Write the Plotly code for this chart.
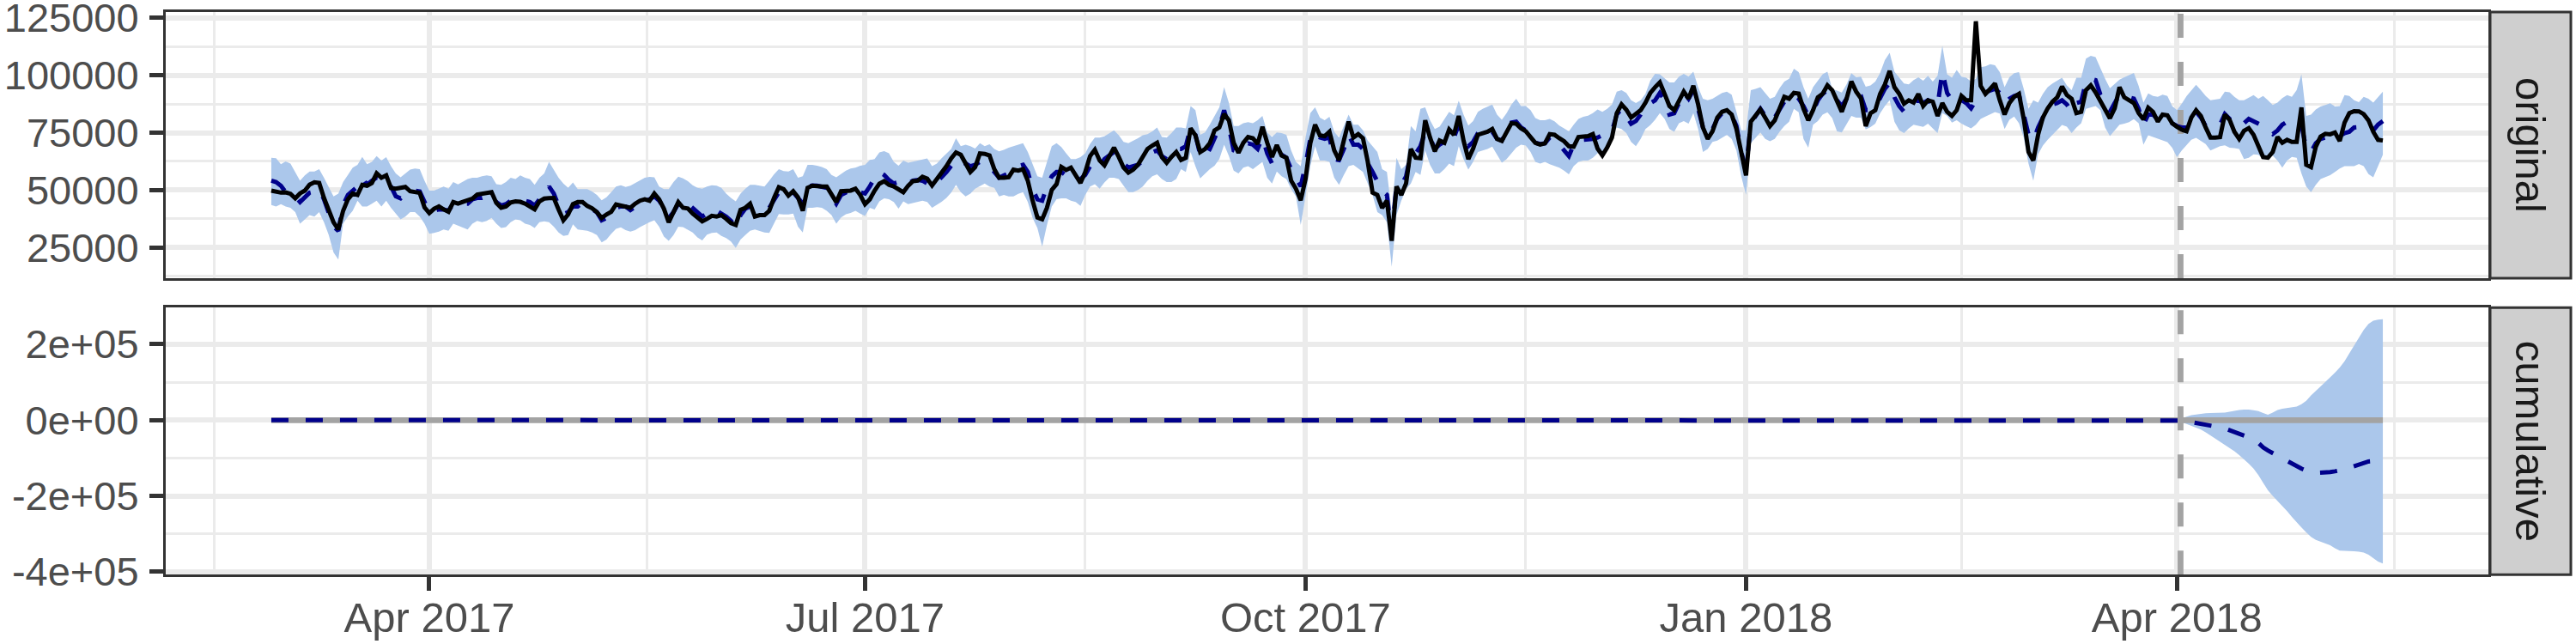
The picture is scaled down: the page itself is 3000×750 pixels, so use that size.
import pandas as pd
import plotly.graph_objects as go

# ---------------- data (values in thousands) ----------------
START_DATE = "2017-02-27"          # first observation
INTERVENTION = "2018-04-01 18:00"  # dashed vertical marker
POST_START_OFFSET = 398            # index of the last pre-period day (cumulative starts here)

response_k = [
    49.8, 49.3, 48.9, 49.0, 48.4, 46.4, 48.6, 49.8, 52.4, 53.4,
    53.1, 46.6, 41.0, 36.0, 32.9, 41.0, 46.0, 48.5, 47.9, 52.3,
    51.9, 53.1, 57.3, 55.4, 56.4, 50.9, 50.6, 50.8, 51.4, 49.5,
    49.1, 48.8, 42.5, 40.0, 41.9, 42.9, 41.6, 40.6, 44.8, 44.1,
    44.9, 45.6, 46.3, 48.1, 48.3, 48.6, 49.1, 44.4, 42.3, 42.9,
    44.6, 45.1, 44.9, 44.1, 43.1, 41.6, 45.1, 46.3, 46.5, 46.6,
    41.6, 36.9, 39.4, 43.9, 44.8, 44.8, 43.1, 42.1, 40.4, 37.9,
    39.4, 40.6, 43.8, 43.4, 42.9, 42.3, 44.1, 45.4, 46.0, 45.4,
    48.5, 46.0, 41.9, 36.0, 40.4, 44.8, 42.3, 42.0, 39.8, 37.9,
    36.4, 37.5, 38.8, 38.5, 39.1, 37.5, 35.6, 34.8, 41.4, 42.3,
    44.1, 38.5, 39.1, 39.1, 41.0, 46.6, 51.3, 50.4, 47.6, 49.5,
    46.9, 41.0, 51.0, 51.9, 51.6, 51.6, 51.6, 48.1, 44.8, 49.5,
    49.8, 49.8, 50.6, 47.9, 43.9, 46.0, 49.8, 52.8, 53.9, 52.3,
    51.6, 50.6, 49.1, 51.9, 53.9, 54.1, 55.8, 55.0, 52.0, 54.8,
    57.3, 60.4, 63.8, 66.4, 65.4, 61.3, 57.9, 60.0, 66.0, 65.8,
    65.1, 59.1, 55.4, 55.4, 55.6, 58.9, 58.5, 59.1, 54.1, 45.4,
    38.1, 37.3, 42.3, 50.1, 52.6, 60.1, 58.8, 59.8, 56.6, 53.1,
    57.9, 64.8, 67.6, 62.9, 60.8, 64.8, 68.5, 64.4, 59.8, 57.6,
    58.9, 61.0, 64.1, 67.9, 69.4, 70.6, 64.4, 61.9, 64.5, 66.6,
    63.1, 64.1, 76.9, 73.9, 66.6, 67.9, 70.4, 76.0, 77.3, 83.1,
    80.4, 70.6, 66.3, 70.6, 73.1, 72.6, 70.1, 77.6, 70.6, 64.4,
    69.6, 65.1, 64.1, 54.1, 50.6, 45.6, 54.8, 70.4, 78.5, 73.8,
    73.5, 75.4, 67.3, 63.1, 71.6, 79.8, 72.9, 74.4, 72.6, 62.3,
    48.9, 47.9, 42.3, 45.4, 27.9, 51.6, 47.9, 52.9, 67.9, 64.1,
    63.9, 80.4, 72.9, 66.9, 71.6, 70.6, 76.4, 74.1, 82.3, 71.6,
    63.5, 68.1, 74.1, 74.8, 75.4, 76.6, 72.3, 71.4, 75.1, 79.1,
    78.9, 76.9, 75.6, 72.9, 70.6, 69.8, 70.4, 74.4, 74.1, 72.6,
    71.3, 69.1, 68.9, 73.1, 73.1, 73.5, 74.4, 68.1, 65.1, 68.5,
    72.9, 83.5, 87.3, 85.0, 81.6, 83.1, 84.8, 88.1, 92.3, 94.8,
    96.9, 91.9, 86.6, 84.8, 89.4, 92.9, 89.8, 95.4, 87.3, 77.3,
    72.3, 75.6, 81.6, 84.1, 84.8, 82.9, 76.6, 65.4, 56.4, 79.8,
    82.6, 85.1, 81.6, 77.9, 80.4, 85.6, 90.6, 89.8, 92.3, 92.0,
    85.4, 80.4, 84.8, 90.4, 91.9, 95.6, 93.5, 88.8, 84.1, 89.8,
    97.3, 92.9, 90.0, 77.9, 83.5, 84.8, 91.9, 96.0, 101.9, 94.8,
    91.9, 87.6, 89.1, 88.1, 91.9, 86.6, 89.1, 88.5, 82.3, 87.9,
    84.1, 82.3, 84.8, 91.0, 89.1, 89.1, 123.5, 95.4, 91.9, 94.1,
    96.4, 89.1, 82.9, 87.9, 90.6, 91.9, 81.0, 66.6, 62.9, 74.1,
    81.6, 85.6, 88.5, 90.4, 95.1, 91.4, 89.8, 83.5, 84.1, 93.5,
    95.6, 92.6, 88.5, 85.4, 81.3, 85.6, 94.8, 90.4, 89.1, 87.9,
    83.5, 80.8, 85.9, 84.1, 79.8, 82.9, 82.6, 79.1, 77.6, 76.3,
    75.6, 81.6, 84.8, 82.3, 77.3, 72.9, 72.9, 73.1, 82.9, 80.6,
    75.4, 72.3, 75.8, 77.0, 74.1, 69.1, 64.4, 64.1, 66.6, 73.1,
    70.6, 71.9, 71.0, 71.0, 86.0, 61.0, 60.0, 68.9, 73.3, 74.5,
    74.3, 75.1, 71.4, 79.4, 83.5, 84.4, 84.3, 83.1, 80.4, 75.4,
    71.9, 71.6,
]

point_pred_k = [
    54.1, 53.5, 51.9, 49.1, 47.9, 47.3, 44.8, 46.6, 48.9, 49.4,
    50.4, 46.0, 39.8, 34.1, 32.3, 43.5, 47.9, 49.8, 51.6, 55.4,
    52.3, 54.1, 55.4, 54.8, 54.8, 51.6, 47.3, 46.4, 48.5, 49.4,
    49.8, 49.4, 45.4, 40.4, 41.0, 41.6, 41.6, 41.0, 44.1, 44.1,
    44.4, 44.1, 46.0, 46.6, 46.6, 47.3, 47.9, 44.8, 43.3, 43.9,
    45.4, 46.0, 46.4, 45.4, 44.8, 43.3, 46.0, 46.6, 51.6, 48.5,
    43.3, 39.5, 40.4, 42.9, 42.9, 44.4, 42.9, 41.9, 40.4, 36.9,
    37.9, 39.8, 42.3, 42.9, 42.9, 41.3, 42.9, 44.1, 45.4, 46.0,
    47.3, 45.4, 42.3, 37.9, 40.4, 44.1, 46.0, 44.1, 42.3, 40.4,
    38.5, 39.8, 41.9, 41.0, 39.8, 38.5, 36.6, 33.9, 39.1, 41.9,
    42.9, 42.9, 42.3, 41.6, 42.3, 46.0, 49.1, 49.1, 48.5, 49.1,
    46.6, 44.1, 51.4, 52.0, 51.9, 51.6, 51.0, 47.3, 44.1, 47.9,
    49.1, 49.8, 51.0, 49.1, 48.5, 51.6, 55.4, 57.9, 56.6, 54.4,
    52.9, 53.5, 51.6, 52.9, 54.1, 54.4, 54.1, 52.9, 51.6, 53.5,
    55.4, 57.9, 60.6, 63.5, 62.3, 61.6, 60.4, 61.0, 62.3, 61.6,
    60.4, 57.9, 55.4, 56.4, 57.3, 59.1, 60.4, 61.0, 57.9, 50.4,
    46.0, 45.4, 51.6, 56.0, 57.9, 57.9, 56.6, 54.8, 54.1, 54.8,
    56.6, 60.4, 62.3, 60.4, 63.5, 64.8, 66.6, 64.8, 61.6, 59.8,
    60.4, 61.0, 62.9, 64.8, 66.4, 67.3, 64.8, 63.5, 65.4, 67.9,
    67.9, 69.1, 77.3, 74.1, 65.4, 64.1, 67.9, 72.9, 77.3, 84.8,
    77.3, 67.3, 66.6, 69.1, 70.4, 69.8, 67.9, 72.9, 66.0, 61.6,
    66.6, 65.4, 64.1, 59.1, 55.4, 51.6, 61.0, 72.3, 75.4, 72.9,
    72.3, 72.9, 63.5, 63.1, 67.9, 74.1, 69.8, 69.8, 67.9, 61.6,
    57.9, 54.1, 49.8, 47.9, 30.4, 52.3, 52.3, 56.0, 66.0, 66.0,
    69.1, 75.4, 72.9, 67.9, 69.8, 71.0, 73.5, 72.9, 78.5, 72.9,
    69.1, 71.0, 74.8, 76.6, 74.8, 75.4, 72.3, 71.6, 75.4, 79.4,
    79.8, 77.3, 76.0, 72.9, 70.6, 70.1, 70.4, 72.9, 72.3, 69.8,
    67.3, 64.8, 69.8, 71.9, 71.9, 71.9, 72.3, 72.9, 74.1, 74.8,
    75.6, 82.9, 85.4, 82.3, 78.9, 80.1, 82.9, 86.6, 88.1, 89.1,
    92.3, 89.1, 82.9, 83.5, 87.9, 92.6, 89.8, 93.5, 85.4, 77.3,
    74.1, 76.6, 81.0, 83.5, 83.9, 82.9, 77.9, 66.6, 59.1, 79.1,
    82.3, 85.4, 82.3, 79.8, 81.6, 85.4, 88.5, 89.8, 91.6, 89.8,
    86.6, 82.3, 84.1, 89.1, 91.9, 93.5, 92.6, 89.1, 86.6, 89.8,
    92.6, 92.3, 91.0, 84.8, 84.8, 86.0, 90.4, 94.1, 96.6, 90.4,
    86.6, 84.1, 87.3, 88.5, 89.1, 87.9, 89.1, 87.3, 86.6, 101.6,
    92.3, 89.1, 91.0, 89.1, 87.9, 85.6, 89.1, 91.6, 92.6, 93.5,
    94.1, 92.3, 87.9, 89.8, 91.0, 91.6, 83.5, 74.1, 71.6, 77.3,
    81.6, 84.1, 87.3, 87.9, 89.1, 87.3, 84.1, 87.9, 88.5, 97.3,
    98.5, 97.9, 91.6, 87.9, 84.1, 87.9, 91.6, 91.6, 90.4, 89.8,
    85.4, 78.5, 82.9, 82.9, 80.6, 81.0, 81.0, 79.1, 77.9, 77.3,
    77.3, 81.6, 84.1, 81.6, 77.9, 77.6, 77.9, 78.5, 83.1, 81.0,
    78.9, 77.9, 79.1, 81.0, 80.1, 79.1, 77.9, 76.0, 74.4, 76.0,
    78.5, 79.8, 79.8, 79.8, 78.5, 67.9, 66.6, 70.4, 72.3, 72.9,
    72.9, 73.1, 73.5, 74.8, 75.4, 77.3, 77.6, 77.6, 77.3, 76.0,
    78.5, 80.1,
]

pred_upper_k = [
    64.1, 63.9, 61.3, 62.5, 61.6, 57.9, 54.1, 56.4, 58.1, 58.1,
    59.1, 55.4, 51.6, 47.3, 48.5, 53.5, 56.6, 59.8, 61.0, 64.5,
    61.3, 62.3, 64.8, 62.9, 64.4, 60.4, 57.3, 55.6, 57.3, 58.9,
    59.4, 59.1, 54.1, 49.8, 49.8, 50.6, 51.6, 50.6, 53.5, 52.5,
    53.5, 54.8, 55.4, 55.4, 56.0, 56.4, 56.0, 52.6, 52.3, 53.5,
    55.4, 54.8, 56.4, 55.4, 54.8, 52.3, 55.4, 57.3, 62.3, 59.1,
    55.4, 52.9, 51.0, 53.3, 50.4, 50.4, 50.4, 49.4, 47.9, 45.6,
    46.9, 49.1, 51.6, 52.1, 51.4, 51.9, 53.1, 54.4, 55.4, 55.8,
    55.6, 51.6, 50.4, 50.4, 53.5, 55.9, 55.1, 53.9, 52.1, 51.0,
    50.6, 51.6, 52.1, 51.9, 51.0, 48.5, 46.6, 45.1, 48.5, 50.6,
    52.3, 52.3, 51.9, 51.6, 54.1, 56.9, 59.1, 58.3, 58.1, 59.1,
    55.4, 56.0, 61.0, 61.0, 60.6, 60.1, 59.1, 56.6, 55.6, 57.0,
    58.5, 59.4, 59.8, 60.6, 61.0, 63.1, 63.5, 66.4, 67.0, 66.0,
    62.3, 60.6, 62.9, 61.9, 62.4, 62.9, 63.4, 63.8, 60.4, 61.6,
    63.9, 66.0, 67.9, 72.6, 69.1, 69.8, 69.1, 68.1, 70.4, 69.1,
    70.0, 67.9, 66.9, 67.5, 68.5, 69.1, 69.8, 70.4, 66.6, 61.6,
    56.0, 55.4, 62.3, 69.1, 70.4, 68.8, 66.0, 63.5, 63.5, 64.4,
    66.0, 70.1, 72.9, 72.9, 73.4, 74.8, 76.0, 73.9, 71.0, 70.4,
    71.4, 72.6, 73.9, 74.4, 75.6, 77.3, 73.1, 72.9, 74.8, 77.3,
    77.3, 76.9, 86.6, 84.8, 74.1, 75.1, 78.5, 82.3, 86.0, 94.8,
    87.9, 77.9, 77.9, 79.1, 79.6, 79.1, 80.4, 82.3, 75.1, 73.1,
    75.1, 74.8, 74.1, 67.3, 62.3, 60.4, 72.9, 83.5, 86.0, 81.6,
    80.4, 81.9, 75.4, 72.9, 77.9, 82.9, 78.5, 78.5, 76.0, 71.6,
    69.1, 66.6, 59.1, 57.9, 40.4, 64.1, 59.1, 61.0, 77.9, 75.6,
    85.4, 86.0, 80.4, 76.6, 77.6, 81.0, 84.1, 82.6, 88.9, 82.9,
    78.1, 80.1, 84.1, 85.4, 86.4, 87.3, 82.9, 80.6, 83.5, 87.3,
    89.8, 86.6, 86.6, 84.8, 81.4, 80.4, 80.4, 81.0, 80.0, 78.1,
    76.9, 75.6, 78.5, 81.0, 81.9, 82.4, 83.5, 85.1, 84.1, 85.4,
    87.3, 92.9, 93.5, 92.3, 89.1, 87.9, 89.1, 91.9, 97.6, 100.6,
    100.4, 98.5, 96.9, 96.9, 99.4, 100.6, 99.4, 101.6, 94.8, 89.8,
    89.1, 89.8, 91.0, 92.3, 92.9, 91.6, 84.1, 76.0, 76.0, 93.5,
    94.1, 94.8, 92.3, 89.8, 90.6, 94.4, 97.3, 98.5, 102.9, 101.4,
    94.8, 89.8, 94.8, 97.6, 100.4, 101.6, 94.1, 93.3, 92.5, 96.0,
    100.9, 99.1, 99.4, 95.0, 95.6, 97.3, 101.0, 106.6, 109.8, 101.6,
    98.8, 96.4, 96.0, 97.9, 99.1, 97.6, 99.8, 97.3, 99.8, 112.9,
    100.4, 98.9, 102.3, 99.4, 98.9, 97.3, 98.5, 103.5, 103.9, 104.8,
    104.4, 101.4, 94.8, 99.1, 100.9, 101.4, 94.1, 85.4, 89.1, 88.1,
    91.9, 94.8, 96.4, 97.6, 98.9, 95.6, 93.5, 98.9, 98.9, 107.3,
    108.5, 107.9, 102.9, 98.5, 94.4, 96.4, 98.1, 99.1, 100.0, 101.0,
    95.4, 88.1, 92.1, 91.0, 90.6, 91.6, 91.0, 86.6, 84.8, 87.6,
    90.9, 93.5, 95.9, 93.5, 91.0, 89.1, 89.4, 89.8, 92.9, 92.6,
    90.6, 89.1, 89.1, 90.4, 91.4, 89.8, 91.0, 89.1, 87.1, 88.1,
    90.1, 91.4, 90.6, 93.5, 100.4, 82.3, 82.9, 85.1, 86.4, 87.1,
    87.8, 86.4, 86.6, 91.4, 91.0, 89.1, 88.3, 90.6, 89.8, 88.1,
    90.4, 92.9,
]

pred_lower_k = [
    43.5, 42.9, 43.9, 42.9, 42.3, 40.4, 35.4, 37.3, 39.1, 38.5,
    40.4, 36.0, 30.4, 22.9, 19.8, 35.4, 38.5, 41.0, 45.4, 42.9,
    42.9, 44.1, 45.4, 42.9, 45.4, 42.3, 39.8, 37.3, 38.5, 40.4,
    40.4, 38.5, 35.4, 31.0, 31.4, 31.9, 32.9, 32.3, 35.4, 34.5,
    33.9, 32.9, 35.4, 36.6, 36.0, 36.6, 37.9, 35.4, 33.5, 33.9,
    36.0, 37.3, 36.9, 35.4, 34.8, 33.5, 36.0, 36.4, 36.0, 34.1,
    31.6, 30.1, 30.4, 35.1, 32.9, 32.6, 32.3, 31.6, 30.4, 27.3,
    28.5, 31.0, 33.1, 33.8, 32.6, 31.9, 32.6, 33.9, 35.1, 36.0,
    36.9, 34.1, 29.8, 27.9, 30.4, 34.1, 33.9, 32.6, 31.6, 29.4,
    28.1, 30.6, 31.4, 31.6, 30.1, 29.1, 27.6, 24.8, 28.5, 30.4,
    32.3, 32.9, 32.3, 31.6, 31.4, 35.4, 39.6, 39.4, 39.4, 39.8,
    34.1, 31.6, 42.3, 42.3, 42.6, 42.3, 41.0, 39.1, 35.4, 38.1,
    39.5, 40.1, 41.0, 39.8, 38.8, 42.3, 41.6, 45.1, 46.4, 46.0,
    44.8, 41.9, 45.1, 43.9, 44.4, 45.0, 45.4, 44.8, 42.3, 43.6,
    44.9, 46.6, 48.9, 52.3, 49.1, 47.3, 48.5, 50.6, 51.6, 52.9,
    51.6, 51.0, 47.3, 47.9, 47.3, 47.3, 48.4, 49.1, 44.8, 37.9,
    33.5, 25.4, 34.8, 42.9, 46.0, 46.4, 46.4, 45.4, 44.8, 43.1,
    47.9, 51.6, 52.6, 50.6, 53.3, 55.4, 55.4, 54.8, 51.9, 49.1,
    49.1, 50.1, 51.6, 54.1, 56.0, 56.9, 54.8, 53.5, 53.5, 54.8,
    59.1, 57.9, 66.6, 60.4, 55.1, 57.3, 59.1, 60.6, 63.5, 69.8,
    64.8, 58.5, 57.3, 59.8, 60.4, 59.1, 60.6, 62.3, 55.4, 52.9,
    58.1, 56.0, 54.8, 50.4, 47.3, 34.8, 47.3, 60.4, 69.1, 62.9,
    62.9, 62.3, 55.4, 52.3, 56.6, 60.4, 61.0, 59.4, 57.9, 52.9,
    47.9, 40.4, 39.1, 36.0, 16.6, 39.1, 45.4, 50.4, 52.9, 57.9,
    56.6, 67.3, 61.0, 57.3, 57.3, 59.1, 61.6, 60.4, 69.1, 63.5,
    58.9, 62.3, 66.6, 67.3, 67.9, 68.9, 65.6, 61.9, 63.5, 66.0,
    68.5, 69.8, 69.4, 66.6, 62.3, 61.6, 62.3, 61.3, 60.6, 59.8,
    58.5, 56.9, 60.4, 62.3, 62.9, 62.9, 64.1, 66.0, 66.9, 68.1,
    72.9, 77.3, 76.6, 74.8, 71.0, 69.1, 72.3, 76.6, 78.3, 80.6,
    83.5, 81.0, 76.6, 75.4, 79.1, 80.1, 78.9, 83.5, 76.6, 66.6,
    67.9, 71.0, 71.6, 72.9, 74.1, 72.3, 67.3, 56.0, 47.9, 70.4,
    72.9, 75.1, 72.3, 71.3, 72.3, 75.4, 77.9, 79.8, 85.4, 83.9,
    72.3, 68.5, 78.5, 80.1, 82.9, 83.9, 81.4, 75.6, 75.1, 78.5,
    82.3, 81.6, 81.6, 76.4, 77.4, 78.9, 83.4, 86.6, 89.1, 79.8,
    76.0, 74.8, 76.9, 78.5, 77.9, 77.5, 78.9, 76.9, 74.8, 83.5,
    82.3, 79.4, 80.4, 78.9, 77.9, 76.9, 78.5, 81.0, 82.0, 83.1,
    84.0, 83.3, 76.6, 80.6, 82.0, 79.1, 72.9, 61.6, 54.1, 65.6,
    69.4, 71.9, 74.1, 76.6, 78.4, 77.6, 74.8, 77.3, 79.1, 85.4,
    86.0, 86.6, 84.8, 77.3, 73.5, 75.8, 78.5, 78.9, 79.6, 80.9,
    79.1, 69.8, 73.9, 73.1, 72.4, 71.6, 70.9, 68.5, 64.4, 67.3,
    69.6, 71.9, 72.8, 71.6, 70.1, 67.3, 68.1, 69.1, 69.5, 68.5,
    68.3, 67.9, 63.5, 64.1, 65.6, 65.4, 63.5, 63.5, 65.0, 62.9,
    59.8, 62.9, 64.5, 64.1, 57.3, 51.6, 49.1, 52.3, 54.8, 55.8,
    56.5, 57.9, 59.4, 60.4, 60.4, 60.4, 61.4, 60.4, 57.0, 55.6,
    60.4, 65.4,
]

# cumulative effect in the post period (thousands), starting at POST_START_OFFSET
cum_effect_k = [
    0, -1, -3, -5, -7, -10, -12, -15, -17, -19, -22, -27, -33, -38, -42,
    -46, -50, -60, -72, -80, -87, -94, -100, -108, -116, -122, -128, -133,
    -138, -139, -139, -138, -137, -135, -133, -130, -126, -121, -116, -111,
    -109, -108, -107, -106,
]
cum_upper_k = [
    0, 5, 9, 13, 15, 17, 18, 19, 19, 19, 20, 22, 25, 27, 28, 28, 26, 24, 19,
    14, 20, 27, 30, 32, 34, 36, 42, 51, 65, 78, 89, 101, 112, 125, 139, 155,
    176, 196, 218, 238, 254, 262, 265, 266,
]
cum_lower_k = [
    0, -5, -10, -15, -20, -25, -32, -40, -48, -57, -66, -74, -82, -92, -103,
    -115, -128, -145, -165, -185, -200, -213, -226, -240, -255, -270, -283,
    -296, -308, -316, -321, -325, -330, -338, -344, -345, -345, -346, -347,
    -349, -355, -365, -373, -378,
]

x_tick_vals = ["2017-04-01", "2017-07-01", "2017-10-01", "2018-01-01", "2018-04-01"]
x_tick_text = ["Apr 2017", "Jul 2017", "Oct 2017", "Jan 2018", "Apr 2018"]
x_minor_vals = ["2017-02-15", "2017-05-16 12:00", "2017-08-16", "2017-11-16",
                "2018-02-15", "2018-05-16 12:00"]
y1_tick_vals = [25000, 50000, 75000, 100000, 125000]
y1_tick_text = ["25000", "50000", "75000", "100000", "125000"]
y1_minor_vals = [12500, 37500, 62500, 87500, 112500]
y2_tick_vals = [-400000, -200000, 0, 200000]
y2_tick_text = ["-4e+05", "-2e+05", "0e+00", "2e+05"]
y2_minor_vals = [-300000, -100000, 100000]
strip_labels = ["original", "cumulative"]

# ---------------- styling ----------------
W, H = 3000, 750
BAND = "#ABC7EB"
NAVY = "#00008B"
GREY_MARK = "#A3A3A3"
GRID = "#EBEBEB"
DARK = "#333333"
STRIP_FILL = "#CFCFCF"
FONT = "Liberation Sans, Arial, Helvetica, sans-serif"
FONT_SIZE = 49
Y_FONT_SIZE = 47

PX_L, PX_R = 193, 2898
TOP_Y0, TOP_Y1 = 14, 324
BOT_Y0, BOT_Y1 = 358.3, 669.3
STRIP_X0, STRIP_X1 = 2900, 2994

Y1_RANGE = [11650, 127540]
Y2_RANGE = [-407700, 296700]

n = min(len(response_k), len(point_pred_k), len(pred_upper_k), len(pred_lower_k))
dates = pd.date_range(START_DATE, periods=n, freq="D")
scale = lambda arr: [v * 1000 for v in arr]
resp = scale(response_k[:n])
pred = scale(point_pred_k[:n])
upper = scale(pred_upper_k[:n])
lower = scale(pred_lower_k[:n])

m = len(cum_effect_k)
post_dates = list(dates[POST_START_OFFSET:POST_START_OFFSET + m])
cum_mean = [0] + scale(cum_effect_k)[:len(post_dates)]
cum_dates = [dates[0]] + post_dates
cum_up = scale(cum_upper_k)[:len(post_dates)]
cum_lo = scale(cum_lower_k)[:len(post_dates)]

span = dates[-1] - dates[0]
x_range = [dates[0] - 0.05 * span, dates[-1] + 0.05 * span]
iv = pd.Timestamp(INTERVENTION)

fig = go.Figure()

# ---- top panel: original ----
fig.add_trace(go.Scatter(x=dates, y=upper, mode="lines", line=dict(width=0, color=BAND),
                         xaxis="x", yaxis="y", hoverinfo="skip"))
fig.add_trace(go.Scatter(x=dates, y=lower, mode="lines", line=dict(width=0, color=BAND),
                         fill="tonexty", fillcolor=BAND, xaxis="x", yaxis="y", hoverinfo="skip"))
fig.add_trace(go.Scatter(x=[iv, iv], y=[Y1_RANGE[0], Y1_RANGE[1]], mode="lines",
                         line=dict(color=GREY_MARK, width=6.8, dash="28px,28px"),
                         xaxis="x", yaxis="y"))
fig.add_trace(go.Scatter(x=dates, y=pred, mode="lines",
                         line=dict(color=NAVY, width=5, dash="20px,20px"), xaxis="x", yaxis="y"))
fig.add_trace(go.Scatter(x=dates, y=resp, mode="lines",
                         line=dict(color="black", width=5), xaxis="x", yaxis="y"))

# ---- bottom panel: cumulative ----
fig.add_trace(go.Scatter(x=post_dates, y=cum_up, mode="lines", line=dict(width=0, color=BAND),
                         xaxis="x2", yaxis="y2", hoverinfo="skip"))
fig.add_trace(go.Scatter(x=post_dates, y=cum_lo, mode="lines", line=dict(width=0, color=BAND),
                         fill="tonexty", fillcolor=BAND, xaxis="x2", yaxis="y2", hoverinfo="skip"))
fig.add_trace(go.Scatter(x=[dates[0], dates[-1]], y=[0, 0], mode="lines",
                         line=dict(color=GREY_MARK, width=6.8), xaxis="x2", yaxis="y2"))
fig.add_trace(go.Scatter(x=[iv, iv], y=[Y2_RANGE[0], Y2_RANGE[1]], mode="lines",
                         line=dict(color=GREY_MARK, width=6.8, dash="28px,28px"),
                         xaxis="x2", yaxis="y2"))
fig.add_trace(go.Scatter(x=cum_dates, y=cum_mean, mode="lines",
                         line=dict(color=NAVY, width=5, dash="20px,20px"), xaxis="x2", yaxis="y2"))


def xaxis(anchor, labels):
    d = dict(
        type="date", range=x_range, domain=[PX_L / W, PX_R / W], anchor=anchor,
        automargin=False,
        tickmode="array", tickvals=x_tick_vals, ticktext=x_tick_text,
        showgrid=True, gridcolor=GRID, gridwidth=5.5,
        minor=dict(tickmode="array", tickvals=x_minor_vals, showgrid=True,
                   gridcolor=GRID, gridwidth=2.8, ticks=""),
        showline=True, linecolor=DARK, linewidth=3, mirror=True, zeroline=False,
        showticklabels=labels, ticklabeloverflow="allow",
        tickfont=dict(family=FONT, size=FONT_SIZE, color="#4D4D4D"),
        ticklabelstandoff=-11,
    )
    if labels:
        d.update(ticks="outside", ticklen=16, tickwidth=4.5, tickcolor=DARK)
    else:
        d.update(ticks="")
    return d


def yaxis(anchor, dom, rng, vals, text, minor_vals):
    return dict(
        domain=dom, range=rng, anchor=anchor, automargin=False,
        tickmode="array", tickvals=vals, ticktext=text,
        ticks="outside", ticklen=16, tickwidth=4.5, tickcolor=DARK,
        ticklabelstandoff=3, ticklabeloverflow="allow",
        showgrid=True, gridcolor=GRID, gridwidth=5.5,
        minor=dict(tickmode="array", tickvals=minor_vals, showgrid=True,
                   gridcolor=GRID, gridwidth=2.8, ticks=""),
        showline=True, linecolor=DARK, linewidth=3, mirror=True, zeroline=False,
        tickfont=dict(family=FONT, size=Y_FONT_SIZE, color="#4D4D4D"),
    )


top_dom = [1 - TOP_Y1 / H, 1 - TOP_Y0 / H]
bot_dom = [1 - BOT_Y1 / H, 1 - BOT_Y0 / H]

fig.update_layout(
    width=W, height=H,
    margin=dict(l=0, r=0, t=0, b=0, pad=0, autoexpand=False),
    paper_bgcolor="white", plot_bgcolor="white",
    showlegend=False,
    font=dict(family=FONT),
    xaxis=xaxis("y", False),
    xaxis2=xaxis("y2", True),
    yaxis=yaxis("x", top_dom, Y1_RANGE, y1_tick_vals, y1_tick_text, y1_minor_vals),
    yaxis2=yaxis("x2", bot_dom, Y2_RANGE, y2_tick_vals, y2_tick_text, y2_minor_vals),
)

# facet strips
for label, dom in zip(strip_labels, [top_dom, bot_dom]):
    fig.add_shape(type="rect", xref="paper", yref="paper",
                  x0=STRIP_X0 / W, x1=STRIP_X1 / W, y0=dom[0], y1=dom[1],
                  fillcolor=STRIP_FILL, line=dict(color=DARK, width=3), layer="above")
    fig.add_annotation(xref="paper", yref="paper",
                       x=(STRIP_X0 + STRIP_X1) / 2 / W, y=(dom[0] + dom[1]) / 2,
                       text=label, textangle=90, showarrow=False,
                       font=dict(family=FONT, size=FONT_SIZE, color="#1A1A1A"),
                       xanchor="center", yanchor="middle")

fig.write_html(
    "out.html",
    config={"displayModeBar": False},
    post_script="document.body.style.margin='0px';document.body.style.overflow='hidden';",
)
